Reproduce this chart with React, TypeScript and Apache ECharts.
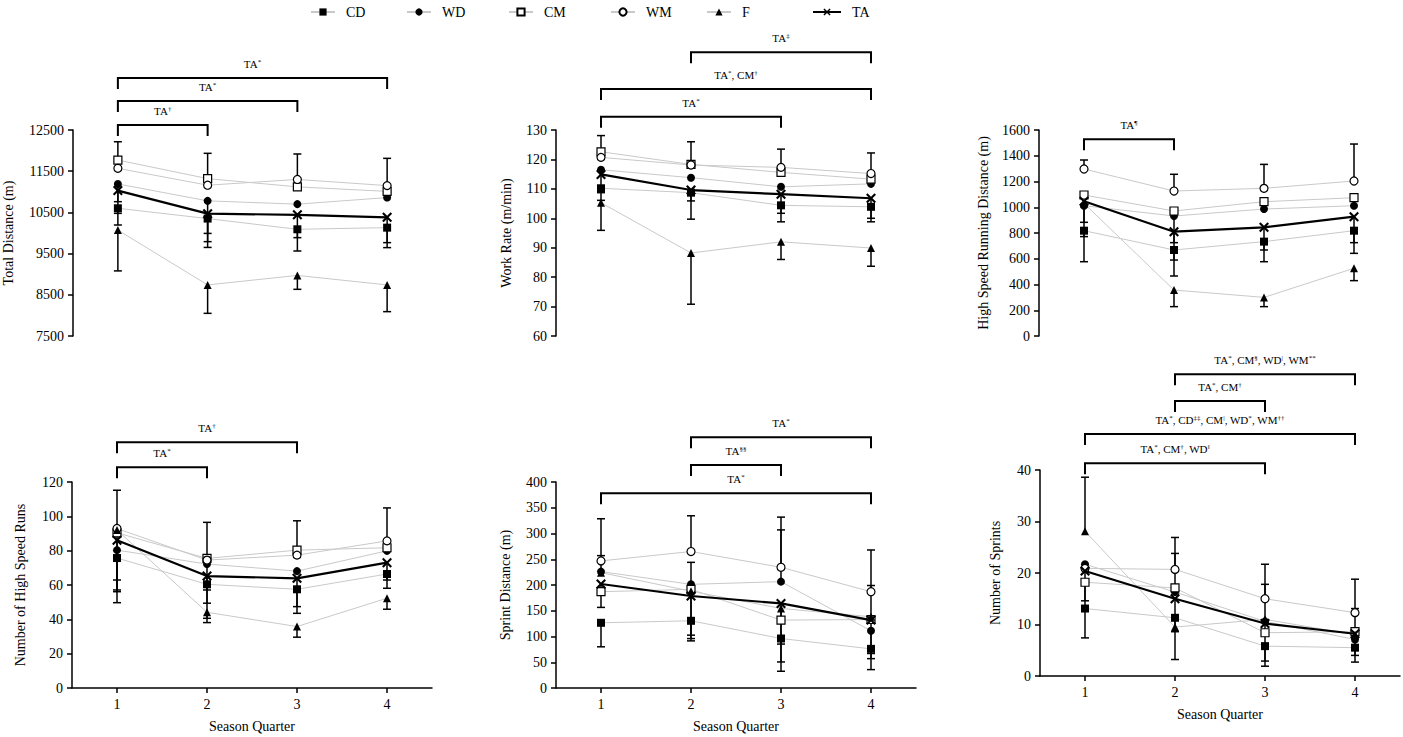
import React, { useEffect, useRef } from 'react';
import * as echarts from 'echarts';

const FONT = "'Liberation Serif', 'Times New Roman', 'DejaVu Serif', serif";
const quarters = ['1', '2', '3', '4'];
const seriesNames = ['CD', 'WD', 'CM', 'WM', 'F', 'TA'];

// Rows follow seriesNames order: CD, WD, CM, WM, F, TA. Columns: season quarters 1-4.
// Signed error bars: positive drawn above the mean, negative below, 0 = none.
const totalDistanceMean = [
  [10600, 10350, 10090, 10130],
  [11190, 10780, 10700, 10860],
  [11770, 11320, 11120, 11010],
  [11570, 11160, 11300, 11150],
  [10070, 8740, 8970, 8740],
  [11030, 10470, 10440, 10380],
];
const totalDistanceErr = [
  [-406, -700, -527, -485],
  [-430, -790, 0, 0],
  [445, 614, 0, 0],
  [0, 0, 618, 662],
  [-990, -690, -337, -649],
  [-553, -680, -553, -614],
];
const totalDistanceTicks = [7500, 8500, 9500, 10500, 11500, 12500];
const totalDistanceBrackets = [
  [0, 3, 13762, 'TA{s|*}'],
  [0, 2, 13204, 'TA{s|*}'],
  [0, 1, 12621, 'TA{s|†}'],
];

const workRateMean = [
  [110.2, 108.7, 104.4, 103.9],
  [116.5, 113.8, 110.7, 111.7],
  [122.6, 118.3, 115.6, 113.3],
  [120.7, 118.1, 117.3, 115.2],
  [105.3, 88.2, 92.0, 89.9],
  [114.9, 109.6, 108.2, 106.8],
];
const workRateErr = [
  [-4.1, -9.0, -5.6, -5.1],
  [0, 0, 0, 0],
  [5.5, 0, 0, 0],
  [0, 7.9, 6.2, 7.0],
  [-9.4, -17.4, -6.0, -6.2],
  [-6.2, -3.7, -6.5, -6.8],
];
const workRateTicks = [60, 70, 80, 90, 100, 110, 120, 130];
const workRateBrackets = [
  [1, 3, 156.4, 'TA{s|‡}'],
  [0, 3, 143.9, 'TA{s|*}, CM{s|†}'],
  [0, 2, 134.5, 'TA{s|*}'],
];

const hsrDistanceMean = [
  [818, 668, 733, 818],
  [1012, 932, 986, 1012],
  [1095, 971, 1043, 1074],
  [1297, 1126, 1147, 1204],
  [1030, 357, 300, 526],
  [1046, 810, 844, 927],
];
const hsrDistanceErr = [
  [-46, -202, -156, -176],
  [0, -207, 0, 0],
  [0, 0, 0, 0],
  [70, 130, 186, 287],
  [-453, -129, -72, -96],
  [-163, -220, -176, -202],
];
const hsrDistanceTicks = [0, 200, 400, 600, 800, 1000, 1200, 1400, 1600];
const hsrDistanceBrackets = [[0, 1, 1528, 'TA{s|¶}']];

const hsRunsMean = [
  [75.7, 60.4, 57.5, 66.4],
  [80.3, 72.2, 68.1, 79.9],
  [90.4, 75.5, 80.3, 81.7],
  [92.9, 74.5, 77.4, 85.7],
  [92.0, 44.1, 35.8, 52.3],
  [86.1, 65.2, 63.9, 73.0],
];
const hsRunsErr = [
  [-19.6, -19.8, -14, -8.3],
  [-23.2, -15.1, 0, 0],
  [0, 21, 17.1, 0],
  [22.3, 0, 0, 19.2],
  [-42.3, -6, -6.2, -6.4],
  [-23.2, -15.8, -16.5, -10.1],
];
const hsRunsTicks = [0, 20, 40, 60, 80, 100, 120];
const hsRunsBrackets = [
  [0, 2, 143.1, 'TA{s|†}'],
  [0, 1, 128.6, 'TA{s|*}'],
];

const sprintDistanceMean = [
  [126.6, 130.5, 96.1, 76],
  [226, 201.3, 206.5, 111],
  [187, 191.6, 131.8, 133],
  [246.8, 265, 234.4, 187],
  [224, 188, 154.5, 138.3],
  [202, 178.6, 164.3, 131.8],
];
const sprintDistanceErr = [
  [-46.6, -34.5, -45.5, -19],
  [31, 42.7, 100.5, -75.3],
  [0, 0, 0, 66],
  [81.8, 69.4, 97.4, 81],
  [0, -96.5, -122, 0],
  [-45.5, -76, -79, -64.8],
];
const sprintDistanceTicks = [0, 50, 100, 150, 200, 250, 300, 350, 400];
const sprintDistanceBrackets = [
  [1, 3, 486.8, 'TA{s|*}'],
  [1, 2, 433, 'TA{s|§§}'],
  [0, 3, 378, 'TA{s|*}'],
];

const sprintsMean = [
  [13.1, 11.3, 5.8, 5.5],
  [21.7, 16.3, 10.6, 7.1],
  [18.2, 17.1, 8.4, 8.6],
  [20.9, 20.7, 15.0, 12.3],
  [28.1, 9.5, 11.0, 8.0],
  [20.4, 15.0, 10.2, 8.2],
];
const sprintsErr = [
  [0, -2.7, -2.9, -1.5],
  [0, 7.5, 0, 0],
  [-10.8, 0, 0, 0],
  [0, 6.2, 6.7, 6.5],
  [10.5, 0, 6.8, 5.1],
  [-5.8, -11.8, -8.3, -5.5],
];
const sprintsTicks = [0, 10, 20, 30, 40];
const sprintsBrackets = [
  [1, 3, 58.6, 'TA{s|*}, CM{s|§}, WD{s||}, WM{s|**}'],
  [1, 2, 53.4, 'TA{s|*}, CM{s|†}'],
  [0, 3, 47.0, 'TA{s|*}, CD{s|‡‡}, CM{s||}, WD{s|*}, WM{s|††}'],
  [0, 2, 41.3, 'TA{s|*}, CM{s|†}, WD{s|‖}'],
];

const CROSS = 'path://M0,1.5L1.5,0L5,3.5L8.5,0L10,1.5L6.5,5L10,8.5L8.5,10L5,6.5L1.5,10L0,8.5L3.5,5Z';
const symbolOf: Record<string, string> = {
  CD: 'rect', WD: 'circle', CM: 'rect', WM: 'circle', F: 'triangle', TA: CROSS,
};
const openSymbol: Record<string, boolean> = { CM: true, WM: true };

const panels = [
  { title: 'Total Distance (m)', mean: totalDistanceMean, err: totalDistanceErr, ticks: totalDistanceTicks, brackets: totalDistanceBrackets, left: 72, top: 130, nameGap: 58, bottomAxis: false },
  { title: 'Work Rate (m/min)', mean: workRateMean, err: workRateErr, ticks: workRateTicks, brackets: workRateBrackets, left: 556, top: 130, nameGap: 43, bottomAxis: false },
  { title: 'High Speed Running Distance (m)', mean: hsrDistanceMean, err: hsrDistanceErr, ticks: hsrDistanceTicks, brackets: hsrDistanceBrackets, left: 1039, top: 130, nameGap: 49, bottomAxis: false },
  { title: 'Number of High Speed Runs', mean: hsRunsMean, err: hsRunsErr, ticks: hsRunsTicks, brackets: hsRunsBrackets, left: 72, top: 482, nameGap: 45, bottomAxis: true },
  { title: 'Sprint Distance (m)', mean: sprintDistanceMean, err: sprintDistanceErr, ticks: sprintDistanceTicks, brackets: sprintDistanceBrackets, left: 556, top: 482, nameGap: 44, bottomAxis: true },
  { title: 'Number of Sprints', mean: sprintsMean, err: sprintsErr, ticks: sprintsTicks, brackets: sprintsBrackets, left: 1040, top: 470, nameGap: 38, bottomAxis: true },
];

const legendLeft = [305, 401, 503, 605, 701, 807];

function buildOption() {
  const grid: any[] = [];
  const xAxis: any[] = [];
  const yAxis: any[] = [];
  const series: any[] = [];

  panels.forEach((p, i) => {
    grid.push({ left: p.left, top: p.top, width: 360, height: 206, containLabel: false });
    xAxis.push({
      type: 'category',
      gridIndex: i,
      data: quarters,
      boundaryGap: true,
      show: p.bottomAxis,
      axisLine: { show: true, lineStyle: { color: '#000', width: 1.5 } },
      axisTick: { show: true, alignWithLabel: true, length: 5, lineStyle: { color: '#000', width: 1.5 } },
      axisLabel: { color: '#000', fontSize: 14, fontFamily: FONT, margin: 9 },
      splitLine: { show: false },
      name: p.bottomAxis ? 'Season Quarter' : '',
      nameLocation: 'middle',
      nameGap: 31,
      nameTextStyle: { color: '#000', fontSize: 14, fontFamily: FONT },
    });
    const ticks = p.ticks;
    yAxis.push({
      type: 'value',
      gridIndex: i,
      min: ticks[0],
      max: ticks[ticks.length - 1],
      axisLine: { show: true, lineStyle: { color: '#000', width: 1.5 } },
      axisTick: { show: true, length: 5, lineStyle: { color: '#000', width: 1.5 }, customValues: ticks },
      axisLabel: {
        color: '#000', fontSize: 14, fontFamily: FONT, margin: 9, customValues: ticks,
        formatter: (v: number) => String(v),
      },
      splitLine: { show: false },
      name: p.title,
      nameLocation: 'middle',
      nameGap: p.nameGap,
      nameTextStyle: { color: '#000', fontSize: 14, fontFamily: FONT },
    });

    // error bars
    const errData: number[][] = [];
    seriesNames.forEach((_, k) => {
      p.mean[k].forEach((m, q) => {
        const e = p.err[k][q];
        if (e !== 0) errData.push([q, m, m + e]);
      });
    });
    series.push({
      type: 'custom',
      name: 'errors-' + i,
      xAxisIndex: i,
      yAxisIndex: i,
      z: 3,
      silent: true,
      data: errData,
      encode: { x: 0, y: [1, 2] },
      renderItem: (params: any, api: any) => {
        const q = api.value(0);
        const p0 = api.coord([q, api.value(1)]);
        const p1 = api.coord([q, api.value(2)]);
        const st = { stroke: '#000', lineWidth: 1.5 };
        return {
          type: 'group',
          children: [
            { type: 'line', shape: { x1: p0[0], y1: p0[1], x2: p1[0], y2: p1[1] }, style: st },
            { type: 'line', shape: { x1: p1[0] - 4, y1: p1[1], x2: p1[0] + 4, y2: p1[1] }, style: st },
          ],
        };
      },
    });

    // lines and markers
    seriesNames.forEach((n, k) => {
      const isTA = n === 'TA';
      series.push({
        type: 'line',
        name: n,
        xAxisIndex: i,
        yAxisIndex: i,
        data: p.mean[k],
        symbol: symbolOf[n],
        symbolSize: isTA ? 10 : 8,
        showSymbol: true,
        z: isTA ? 6 : 4,
        lineStyle: { color: isTA ? '#000' : '#c9c9c9', width: isTA ? 2.2 : 1 },
        itemStyle: {
          color: openSymbol[n] ? '#fff' : '#000',
          borderColor: '#000',
          borderWidth: openSymbol[n] ? 1.2 : 0,
        },
        emphasis: { disabled: true },
        silent: true,
      });
    });

    // significance brackets
    const labels = p.brackets.map((b) => b[3] as string);
    series.push({
      type: 'custom',
      name: 'brackets-' + i,
      xAxisIndex: i,
      yAxisIndex: i,
      z: 7,
      silent: true,
      clip: false,
      data: p.brackets.map((b) => [b[0], b[1], b[2]]),
      encode: { x: [0, 1], y: 2 },
      renderItem: (params: any, api: any) => {
        const a = api.coord([api.value(0), api.value(2)]);
        const b = api.coord([api.value(1), api.value(2)]);
        return {
          type: 'group',
          children: [
            {
              type: 'polyline',
              shape: { points: [[a[0], a[1] + 11], [a[0], a[1]], [b[0], b[1]], [b[0], b[1] + 11]] },
              style: { stroke: '#000', lineWidth: 2, fill: null },
            },
            {
              type: 'text',
              x: (a[0] + b[0]) / 2,
              y: a[1] - 14,
              style: {
                text: labels[params.dataIndex],
                fontFamily: FONT,
                fontSize: 11,
                fill: '#000',
                align: 'center',
                verticalAlign: 'middle',
                rich: {
                  s: { fontSize: 7, fontFamily: FONT, fill: '#000', verticalAlign: 'top', lineHeight: 8 },
                },
              },
            },
          ],
        };
      },
    });
  });

  const legend = seriesNames.map((n, k) => ({
    data: [n],
    left: legendLeft[k],
    top: 0,
    itemWidth: n === 'TA' ? 28 : 24,
    itemHeight: 9,
    selectedMode: false,
    textStyle: { color: '#000', fontSize: 14, fontFamily: FONT, padding: [0, 0, 0, 6] },
  }));

  return {
    animation: false,
    backgroundColor: '#fff',
    textStyle: { fontFamily: FONT },
    legend,
    grid,
    xAxis,
    yAxis,
    series,
  };
}

export default function App() {
  const ref = useRef<HTMLDivElement>(null);
  useEffect(() => {
    if (!ref.current) return;
    const chart = echarts.init(ref.current, undefined, { renderer: 'svg' });
    chart.setOption(buildOption() as any);
    return () => chart.dispose();
  }, []);
  return (
    <div
      ref={ref}
      style={{ position: 'fixed', left: 0, top: 0, width: 1403, height: 737, background: '#fff' }}
    />
  );
}
